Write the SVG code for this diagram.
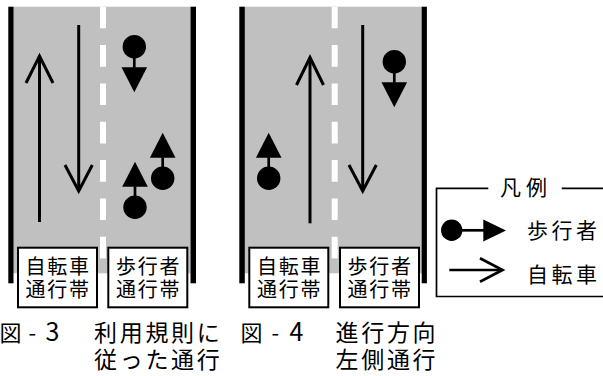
<svg xmlns="http://www.w3.org/2000/svg" xmlns:xlink="http://www.w3.org/1999/xlink" width="603" height="376" viewBox="0 0 603 376">
<style>
.road{fill:#c0c0c0}
.edge{fill:#000}
.dash{stroke:#fff;stroke-width:6;stroke-dasharray:21.67 16.67;fill:none}
.bike{stroke:#000;stroke-width:3;fill:none;stroke-linejoin:miter}
.box{fill:#fff;stroke:#000;stroke-width:2}
.t{font-family:"Noto Sans CJK JP","Noto Sans",sans-serif;fill:#000}
.lbl{font-size:20px;letter-spacing:1.8px}
.cap{font-size:23px;letter-spacing:2.7px}
.leg{font-size:21px;letter-spacing:3.5px}
.lg{stroke:#000;stroke-width:1.7;fill:none}
</style>
<defs>
<g id="ped">
<circle cx="0" cy="0" r="11.7" fill="#000"/>
<line x1="0" y1="0" x2="0" y2="21" stroke="#000" stroke-width="2.7"/>
<polygon points="-12.8,20.5 12.8,20.5 0,45.5" fill="#000"/>
</g>
</defs>

<g id="fig3-road">
<rect class="road" x="13" y="6.7" width="177.5" height="266.6"/>
<rect class="edge" x="8.3" y="6.7" width="5.2" height="276.6"/>
<rect class="edge" x="190.5" y="6.7" width="5.5" height="276.6"/>
<line class="dash" x1="103" y1="6.7" x2="103" y2="273.3"/>
</g>

<g id="fig4-road">
<rect class="road" x="244.5" y="6.7" width="177.5" height="266.6"/>
<rect class="edge" x="239.3" y="6.7" width="5.5" height="276.6"/>
<rect class="edge" x="421.7" y="6.7" width="5.2" height="276.6"/>
<line class="dash" x1="334.7" y1="6.7" x2="334.7" y2="273.3"/>
</g>

<g id="connectors">
<line class="bike" x1="39.5" y1="222" x2="39.5" y2="56"/>
<polyline class="bike" points="26,83 39.5,56 53,83"/>
<line class="bike" x1="78.7" y1="25" x2="78.7" y2="191"/>
<polyline class="bike" points="65,165 78.7,191 92.3,165"/>
<line class="bike" x1="310" y1="223.3" x2="310" y2="57.5"/>
<polyline class="bike" points="296.5,85 310,57.5 323.5,85"/>
<line class="bike" x1="362.7" y1="25" x2="362.7" y2="191"/>
<polyline class="bike" points="349,165 362.7,191 376.3,165"/>
</g>

<g id="fig3-peds">
<use xlink:href="#ped" transform="translate(134.3,46.7)"/>
<use xlink:href="#ped" transform="translate(162.7,178.3) scale(1,-1)"/>
<use xlink:href="#ped" transform="translate(135,207.3) scale(1,-1)"/>
</g>
<g id="fig4-peds">
<use xlink:href="#ped" transform="translate(394.3,61.7)"/>
<use xlink:href="#ped" transform="translate(268.7,178.3) scale(1,-1)"/>
</g>

<g id="fig3-bike-box">
<rect class="box" x="18" y="247.7" width="79" height="59.6"/>
<text class="t lbl" x="25.5" y="274">自転車</text>
<text class="t lbl" x="25.5" y="297">通行帯</text>
</g>
<g id="fig3-ped-box">
<rect class="box" x="108.3" y="247.7" width="79" height="59.6"/>
<text class="t lbl" x="116" y="274">歩行者</text>
<text class="t lbl" x="116" y="297">通行帯</text>
</g>
<g id="fig4-bike-box">
<rect class="box" x="249.3" y="247.7" width="79" height="59.6"/>
<text class="t lbl" x="257" y="274">自転車</text>
<text class="t lbl" x="257" y="297">通行帯</text>
</g>
<g id="fig4-ped-box">
<rect class="box" x="340" y="247.7" width="79" height="59.6"/>
<text class="t lbl" x="347.5" y="274">歩行者</text>
<text class="t lbl" x="347.5" y="297">通行帯</text>
</g>

<g id="caption3">
<text class="t" font-size="22" x="-0.5 20 28.5 37 45.5" y="341">図 - <tspan font-size="25">3</tspan></text>
<text class="t cap" x="94" y="340.5">利用規則に</text>
<text class="t cap" x="94" y="368">従った通行</text>
</g>
<g id="caption4">
<text class="t" font-size="22" x="240.5 261 271.5 281 289.5" y="341">図 - <tspan font-size="25">4</tspan></text>
<text class="t cap" x="335.5" y="340.5">進行方向</text>
<text class="t cap" x="335.5" y="368">左側通行</text>
</g>

<g id="legend">
<path class="lg" d="M488.3,188.3 H436.5 V296.5 H603 M561.7,188.3 H603"/>
<text class="t" font-size="21" x="500 526" y="194.5">凡例</text>
<circle cx="451.7" cy="230.3" r="10.7" fill="#000"/>
<line x1="461" y1="230.3" x2="485" y2="230.3" stroke="#000" stroke-width="2.7"/>
<polygon points="483.3,219.5 483.3,241.5 506,230.5" fill="#000"/>
<text class="t leg" x="527" y="237.5">歩行者</text>
<line x1="449.3" y1="270" x2="502" y2="270" stroke="#000" stroke-width="2.7"/>
<polyline points="480,258.3 502.5,270 480,281.7" stroke="#000" stroke-width="2.7" fill="none"/>
<text class="t leg" x="527" y="282">自転車</text>
</g>
</svg>
